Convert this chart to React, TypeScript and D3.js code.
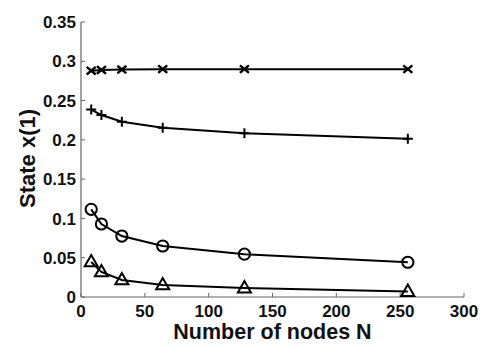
import React from "react";
import * as d3 from "d3";

const nodes = [8, 16, 32, 64, 128, 256];
const seriesX = [0.288, 0.289, 0.2895, 0.29, 0.29, 0.29];
const seriesPlus = [0.2385, 0.2316, 0.2231, 0.2155, 0.2085, 0.2015];
const seriesCircle = [0.1116, 0.0929, 0.0776, 0.0649, 0.0545, 0.0442];
const seriesTriangle = [0.0445, 0.0318, 0.0216, 0.0153, 0.0113, 0.0069];
const xTicks = [0, 50, 100, 150, 200, 250, 300];
const yTicks = [0, 0.05, 0.1, 0.15, 0.2, 0.25, 0.3, 0.35];

const W = 491, H = 347;
const x = d3.scaleLinear().domain([0, 300]).range([81, 464]);
const y = d3.scaleLinear().domain([0, 0.35]).range([297, 22]);

const fmtY = (v: number) => (v === 0 ? "0" : String(+v.toFixed(2)));

function Marker({ kind, cx, cy }: { kind: string; cx: number; cy: number }) {
  const s = "#000";
  if (kind === "x") {
    const rx = 4.5, ry = 3.8;
    return (
      <path
        d={`M${cx - rx},${cy - ry}L${cx + rx},${cy + ry}M${cx - rx},${cy + ry}L${cx + rx},${cy - ry}`}
        stroke={s}
        strokeWidth={2.4}
      />
    );
  }
  if (kind === "plus") {
    const r = 5;
    return <path d={`M${cx - r},${cy}L${cx + r},${cy}M${cx},${cy - r}L${cx},${cy + r}`} stroke={s} strokeWidth={2} />;
  }
  if (kind === "circle") {
    return <circle cx={cx} cy={cy} r={5.6} fill="none" stroke={s} strokeWidth={2} />;
  }
  const hw = 6.5;
  return (
    <path
      d={`M${cx},${cy - 7}L${cx + hw},${cy + 4.3}L${cx - hw},${cy + 4.3}Z`}
      fill="none"
      stroke={s}
      strokeWidth={2}
      strokeLinejoin="miter"
    />
  );
}

export default function App() {
  const series = [
    { kind: "x", vals: seriesX },
    { kind: "plus", vals: seriesPlus },
    { kind: "circle", vals: seriesCircle },
    { kind: "triangle", vals: seriesTriangle },
  ];
  const line = d3
    .line<number>()
    .x((_, i) => x(nodes[i]))
    .y((v) => y(v));
  const font = "'Liberation Sans', Arial, Helvetica, sans-serif";
  return (
    <svg width={W} height={H} style={{ position: "absolute", left: 0, top: 0, background: "#fff" }} fontFamily={font}>
      <rect width={W} height={H} fill="#fff" />
      <line x1={81} y1={22} x2={81} y2={297} stroke="#666" strokeWidth={1.2} />
      <line x1={81} y1={297} x2={464} y2={297} stroke="#666" strokeWidth={1.2} />
      {yTicks.map((t) => (
        <g key={"y" + t}>
          <line x1={81} x2={85} y1={y(t)} y2={y(t)} stroke="#666" />
          <text x={76} y={y(t)} dy="0.36em" textAnchor="end" fontSize={17} fontWeight="bold" fill="#111">
            {fmtY(t)}
          </text>
        </g>
      ))}
      {xTicks.map((t) => (
        <g key={"x" + t}>
          <line x1={x(t)} x2={x(t)} y1={297} y2={293} stroke="#666" />
          <text x={x(t)} y={317} textAnchor="middle" fontSize={17} fontWeight="bold" fill="#111">
            {t}
          </text>
        </g>
      ))}
      <text x={272.5} y={338.5} textAnchor="middle" fontSize={21.5} fontWeight="bold" fill="#111">
        Number of nodes N
      </text>
      <text transform={`translate(34.5,158.5) rotate(-90)`} textAnchor="middle" fontSize={22} fontWeight="bold" fill="#111">
        State x(1)
      </text>
      {series.map((s) => (
        <g key={s.kind}>
          <path d={line(s.vals) || ""} fill="none" stroke="#000" strokeWidth={2} />
          {s.vals.map((v, i) => (
            <Marker key={i} kind={s.kind} cx={x(nodes[i])} cy={y(v)} />
          ))}
        </g>
      ))}
    </svg>
  );
}
